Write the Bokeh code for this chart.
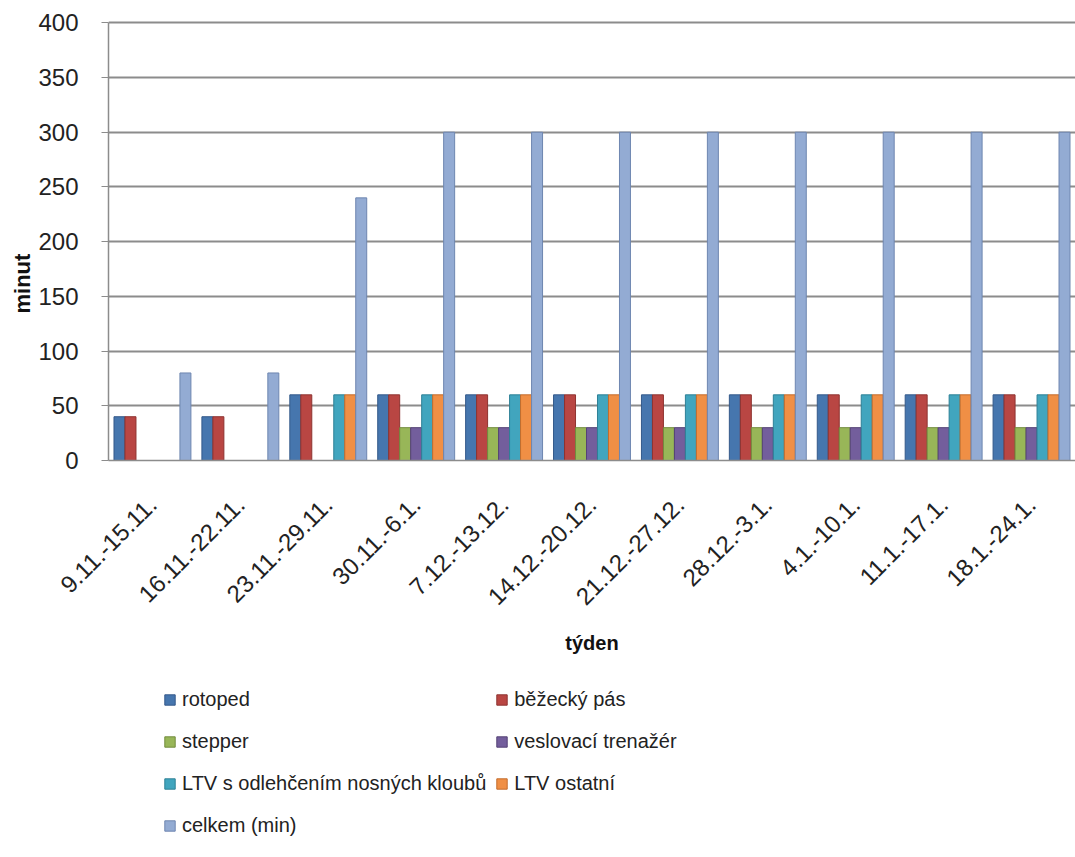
import math
from bokeh.plotting import figure
from bokeh.layouts import column
from bokeh.models import ColumnDataSource, FactorRange, Range1d, Legend, LegendItem, SingleIntervalTicker, Title
from bokeh.transform import dodge
from bokeh.embed import file_html
from bokeh.resources import INLINE

weeks = ["9.11.-15.11.", "16.11.-22.11.", "23.11.-29.11.", "30.11.-6.1.", "7.12.-13.12.",
         "14.12.-20.12.", "21.12.-27.12.", "28.12.-3.1.", "4.1.-10.1.", "11.1.-17.1.", "18.1.-24.1."]
rotoped = [40, 40, 60, 60, 60, 60, 60, 60, 60, 60, 60]
bezecky_pas = [40, 40, 60, 60, 60, 60, 60, 60, 60, 60, 60]
stepper = [0, 0, 0, 30, 30, 30, 30, 30, 30, 30, 30]
veslovaci_trenazer = [0, 0, 0, 30, 30, 30, 30, 30, 30, 30, 30]
ltv_odlehceni = [0, 0, 60, 60, 60, 60, 60, 60, 60, 60, 60]
ltv_ostatni = [0, 0, 60, 60, 60, 60, 60, 60, 60, 60, 60]
celkem = [80, 80, 240, 300, 300, 300, 300, 300, 300, 300, 300]

series_names = ["rotoped", "běžecký pás", "stepper", "veslovací trenažér",
                "LTV s odlehčením nosných kloubů", "LTV ostatní", "celkem (min)"]
series_values = [rotoped, bezecky_pas, stepper, veslovaci_trenazer, ltv_odlehceni, ltv_ostatni, celkem]
colors = ["#4676AE", "#B94643", "#98B658", "#735E9C", "#41A5BE", "#F08F45", "#93ABD3"]
edges = ["#34598A", "#8E3330", "#728C3E", "#544276", "#2E8096", "#C46C2C", "#6E86B0"]

src = ColumnDataSource(data=dict(week=weeks, **{f"s{i}": v for i, v in enumerate(series_values)}))

H1 = 670
p = figure(x_range=FactorRange(factors=weeks, range_padding=0), y_range=Range1d(0, 403),
           width=1075, height=H1, output_backend="svg", toolbar_location=None,
           min_border_left=108, min_border_right=0, min_border_top=19, min_border_bottom=H1 - 460)
p.outline_line_color = None
p.background_fill_color = "white"
p.border_fill_color = "white"

bw = 0.125
for i, name in enumerate(series_names):
    p.vbar(x=dodge("week", (i - 3) * bw, range=p.x_range), top=f"s{i}", width=bw, source=src,
           fill_color=colors[i], line_color=edges[i], line_width=1)

# y axis
p.yaxis.ticker = SingleIntervalTicker(interval=50)
p.yaxis.bounds = (0, 400)
p.yaxis.axis_line_color = "#8C8C8C"
p.yaxis.axis_line_width = 1.5
p.yaxis.major_tick_line_color = "#8C8C8C"
p.yaxis.major_tick_out = 7
p.yaxis.major_tick_in = 0
p.yaxis.minor_tick_line_color = None
p.yaxis.major_label_standoff = 23
p.yaxis.major_label_text_font = "Liberation Sans"
p.yaxis.major_label_text_font_size = "24px"
p.yaxis.major_label_text_color = "#222222"

# y title (placed low like the reference)
p.add_layout(Title(text="minut", align="left", offset=147, standoff=2,
                   text_font="Liberation Sans", text_font_style="bold",
                   text_font_size="22px", text_color="#111111"), "left")

# x axis
p.xaxis.axis_line_color = "#8C8C8C"
p.xaxis.axis_line_width = 1.5
p.xaxis.major_tick_line_color = None
p.xaxis.major_tick_out = 0
p.xaxis.major_tick_in = 0
p.xaxis.major_label_orientation = math.pi / 4
p.xaxis.major_label_standoff = 40
p.xaxis.major_label_text_font = "Liberation Sans"
p.xaxis.major_label_text_font_size = "24px"
p.xaxis.major_label_text_color = "#222222"
p.xaxis.axis_label = "týden"
p.xaxis.axis_label_standoff = 16
p.xaxis.axis_label_text_font = "Liberation Sans"
p.xaxis.axis_label_text_font_style = "bold"
p.xaxis.axis_label_text_font_size = "20px"
p.xaxis.axis_label_text_color = "#111111"

p.xgrid.grid_line_color = None
p.ygrid.grid_line_color = "#8C8C8C"
p.ygrid.grid_line_width = 2

# legend figure below the chart (proxy renderers placed outside its visible range)
lf = figure(width=1075, height=857 - H1, output_backend="svg", toolbar_location=None,
            x_axis_type=None, y_axis_type=None, x_range=Range1d(0, 1), y_range=Range1d(0, 1),
            min_border_left=0, min_border_right=0, min_border_top=0, min_border_bottom=0)
lf.outline_line_color = None
lf.xgrid.visible = False
lf.ygrid.visible = False
proxy = ColumnDataSource(data=dict(x=[-10], top=[0]))
items = []
for i, name in enumerate(series_names):
    r = lf.vbar(x="x", top="top", width=0.1, source=proxy, fill_color=colors[i], line_color=edges[i])
    items.append(LegendItem(label=name, renderers=[r]))
legend = Legend(items=items, location=(55, 15), orientation="horizontal", nrows=4,
                glyph_width=13, glyph_height=13, label_standoff=6, spacing=9,
                padding=0, margin=0, border_line_color=None, background_fill_alpha=0,
                label_text_font="Liberation Sans", label_text_font_size="20px",
                label_text_color="#222222", label_height=33)
lf.add_layout(legend, "center")

layout = column(p, lf, spacing=0)
open("out.html", "w").write(file_html(layout, INLINE))
